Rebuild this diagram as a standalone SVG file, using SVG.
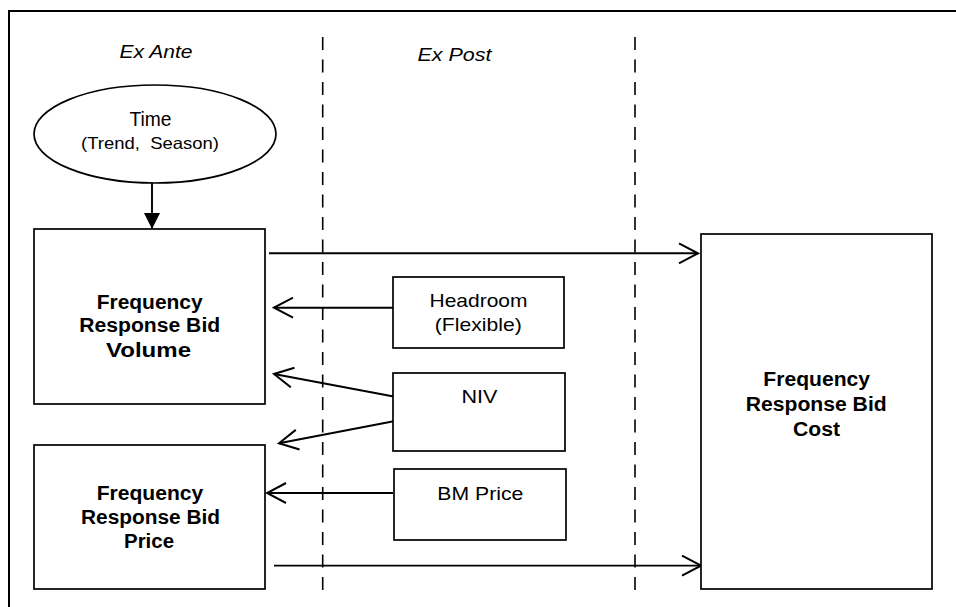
<svg xmlns="http://www.w3.org/2000/svg" width="956" height="607" viewBox="0 0 956 607">
<style>
.frame{fill:none;stroke:#000;stroke-width:2}
.box{fill:#fff;stroke:#000;stroke-width:1.7}
.div{fill:none;stroke:#000;stroke-width:1.6;stroke-dasharray:13 9.5}
.conn{fill:none;stroke:#000;stroke-width:1.9}
.t{font-family:"Liberation Sans",Arial,sans-serif;fill:#000;text-anchor:middle}
.b{font-weight:bold;font-size:19.5px}
.r{font-size:19px}
.i{font-style:italic;font-size:18.5px}
</style>
<defs>
<marker id="open" markerUnits="userSpaceOnUse" viewBox="0 0 22 22" refX="20" refY="11" markerWidth="22" markerHeight="22" orient="auto">
<path d="M1,1 L20,11 L1,21" fill="none" stroke="#000" stroke-width="2"/>
</marker>
<marker id="solid" markerUnits="userSpaceOnUse" viewBox="0 0 16 16" refX="16" refY="8" markerWidth="16" markerHeight="16" orient="auto">
<path d="M0,0 L16,8 L0,16 z" fill="#000"/>
</marker>
</defs>
<rect width="956" height="607" fill="#fff"/>
<g id="frame">
<path class="frame" d="M9,607 L9,11 L956,11"/>
<line class="div" x1="322.7" y1="37" x2="322.7" y2="592"/>
<line class="div" x1="635" y1="37" x2="635" y2="592"/>
<text class="t i" x="156" y="57.5" textLength="73" lengthAdjust="spacingAndGlyphs">Ex Ante</text>
<text class="t i" x="454.5" y="60.5" textLength="74" lengthAdjust="spacingAndGlyphs">Ex Post</text>
</g>
<g id="connectors">
<line class="conn" x1="152" y1="180" x2="152" y2="229" marker-end="url(#solid)"/>
<line class="conn" x1="154" y1="589" x2="154" y2="567" marker-end="url(#solid)"/>
<line class="conn" x1="269" y1="253.3" x2="698" y2="253.3" marker-end="url(#open)"/>
<line class="conn" x1="274" y1="565.6" x2="701" y2="565.6" marker-end="url(#open)"/>
<line class="conn" x1="393" y1="307.7" x2="274" y2="307.7" marker-end="url(#open)"/>
<line class="conn" x1="395" y1="396.7" x2="274" y2="374" marker-end="url(#open)"/>
<line class="conn" x1="395" y1="421" x2="279" y2="443.3" marker-end="url(#open)"/>
<line class="conn" x1="393" y1="493" x2="267" y2="493" marker-end="url(#open)"/>
</g>
<g id="time">
<ellipse class="box" cx="155" cy="134" rx="121" ry="49"/>
<text class="t" x="150.5" y="126" font-size="20" textLength="42" lengthAdjust="spacingAndGlyphs">Time</text>
<text class="t" x="150" y="148.5" font-size="16.5" textLength="138" lengthAdjust="spacingAndGlyphs" xml:space="preserve">(Trend,  Season)</text>
</g>
<g id="volume">
<rect class="box" x="34" y="229" width="231" height="175"/>
<text class="t b" x="149.7" y="309" textLength="106" lengthAdjust="spacingAndGlyphs">Frequency</text>
<text class="t b" x="149.7" y="332" textLength="141" lengthAdjust="spacingAndGlyphs">Response Bid</text>
<text class="t b" x="148.5" y="356.5" textLength="85" lengthAdjust="spacingAndGlyphs">Volume</text>
</g>
<g id="price">
<rect class="box" x="34" y="445" width="231" height="144"/>
<text class="t b" x="150" y="500" textLength="106.6" lengthAdjust="spacingAndGlyphs">Frequency</text>
<text class="t b" x="150.5" y="523.5" textLength="139" lengthAdjust="spacingAndGlyphs">Response Bid</text>
<text class="t b" x="149" y="548" textLength="50" lengthAdjust="spacingAndGlyphs">Price</text>
</g>
<g id="cost">
<rect class="box" x="701" y="234" width="231" height="355"/>
<text class="t b" x="816.7" y="386" textLength="106.7" lengthAdjust="spacingAndGlyphs">Frequency</text>
<text class="t b" x="816.2" y="410.5" textLength="141" lengthAdjust="spacingAndGlyphs">Response Bid</text>
<text class="t b" x="816.5" y="435.5" textLength="47" lengthAdjust="spacingAndGlyphs">Cost</text>
</g>
<g id="headroom">
<rect class="box" x="393" y="277" width="171" height="71"/>
<text class="t r" x="478.5" y="307" textLength="98" lengthAdjust="spacingAndGlyphs">Headroom</text>
<text class="t r" x="478.3" y="331" textLength="87" lengthAdjust="spacingAndGlyphs">(Flexible)</text>
</g>
<g id="niv">
<rect class="box" x="393" y="373" width="172" height="78"/>
<text class="t r" x="479.5" y="403" textLength="36" lengthAdjust="spacingAndGlyphs">NIV</text>
</g>
<g id="bmprice">
<rect class="box" x="394" y="469" width="172" height="71"/>
<text class="t r" x="480.3" y="499.5" textLength="86" lengthAdjust="spacingAndGlyphs">BM Price</text>
</g>
</svg>
